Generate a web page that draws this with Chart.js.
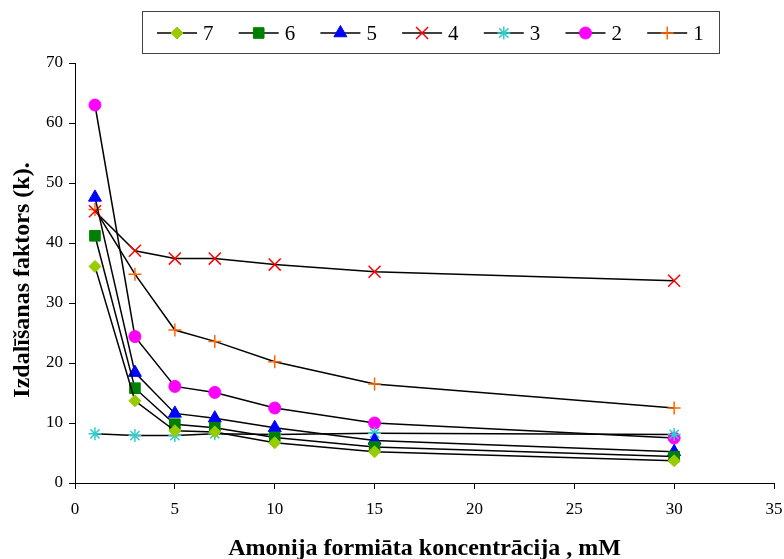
<!DOCTYPE html>
<html>
<head>
<meta charset="utf-8">
<script src="https://cdn.jsdelivr.net/npm/chart.js@4.4.0/dist/chart.umd.min.js"></script>
<style>
  html, body { margin: 0; padding: 0; background: #fff; }
  #wrap { width: 784px; height: 559px; }
</style>
</head>
<body>
<div id="wrap"><canvas id="grafico" width="784" height="559"></canvas></div>
<script>
// koncentrācijas (mM) un izdalīšanas faktori katrai sērijai
const koncentracija = [1, 3, 5, 7, 10, 15, 30];
const serija1 = [45.6, 34.8, 25.5, 23.6, 20.2, 16.5, 12.5];
const serija2 = [63.0, 24.4, 16.1, 15.1, 12.5, 10.0, 7.5];
const serija3 = [8.2, 7.9, 7.9, 8.2, 8.1, 8.3, 8.1];
const serija4 = [45.3, 38.7, 37.4, 37.4, 36.4, 35.2, 33.7];
const serija5 = [47.6, 18.4, 11.6, 10.8, 9.2, 7.1, 5.2];
const serija6 = [41.2, 15.8, 9.8, 9.2, 7.6, 6.0, 4.4];
const serija7 = [36.1, 13.7, 8.7, 8.5, 6.7, 5.2, 3.7];
const nosaukumi = ['7', '6', '5', '4', '3', '2', '1'];
const xTicks = [0, 5, 10, 15, 20, 25, 30, 35];
const yTicks = [0, 10, 20, 30, 40, 50, 60, 70];

const SERIF = '"Liberation Serif", "Times New Roman", serif';

function punkti(vertibas) {
  return koncentracija.map((x, i) => ({ x: x, y: vertibas[i] }));
}

const stili = [
  { data: serija7, color: '#99CC00', style: 'rectRot', r: 6, bw: 1 },
  { data: serija6, color: '#008000', style: 'rect', r: 7.5, bw: 1 },
  { data: serija5, color: '#0000FF', style: 'triangle', r: 7.5, bw: 1 },
  { data: serija4, color: '#FF0000', style: 'crossRot', r: 8.5, bw: 1.5 },
  { data: serija3, color: '#33CCCC', style: 'star', r: 6.5, bw: 1.5 },
  { data: serija2, color: '#FF00FF', style: 'circle', r: 6, bw: 1 },
  { data: serija1, color: '#FF6600', style: 'cross', r: 6.5, bw: 1.5 },
];

const datasets = stili.map((s, i) => ({
  label: nosaukumi[i],
  data: punkti(s.data),
  borderColor: '#000',
  borderWidth: 1.5,
  pointStyle: s.style,
  pointRadius: s.r,
  pointHoverRadius: s.r,
  pointBackgroundColor: s.color,
  pointBorderColor: s.color,
  pointBorderWidth: s.bw,
  tension: 0,
  fill: false,
}));

// leģenda rāmī virs grafika: līnija ar marķieri un numurs
const legendaRami = {
  id: 'legendaRami',
  afterDraw(chart) {
    const c = chart.ctx;
    c.save();
    c.strokeStyle = '#444';
    c.lineWidth = 1;
    c.strokeRect(142.5, 11.5, 577, 42);
    const yc = 33;
    stili.forEach((s, i) => {
      const x0 = 157 + i * 81.7;
      c.strokeStyle = '#000';
      c.lineWidth = 1.5;
      c.beginPath();
      c.moveTo(x0, yc);
      c.lineTo(x0 + 40, yc);
      c.stroke();
      c.fillStyle = s.color;
      c.strokeStyle = s.color;
      c.lineWidth = s.bw;
      Chart.helpers.drawPoint(c, { pointStyle: s.style, radius: s.r, borderWidth: s.bw }, x0 + 20, yc);
      c.fillStyle = '#000';
      c.font = '21px ' + SERIF;
      c.textBaseline = 'middle';
      c.textAlign = 'left';
      c.fillText(nosaukumi[i], x0 + 46, yc + 1);
    });
    // Y ass nosaukums
    c.translate(23, 280);
    c.rotate(-Math.PI / 2);
    c.font = 'bold 24px ' + SERIF;
    c.textAlign = 'center';
    c.textBaseline = 'middle';
    c.fillStyle = '#000';
    c.fillText('Izdalīšanas faktors (k).', 0, 0);
    c.restore();
  }
};

new Chart(document.getElementById('grafico').getContext('2d'), {
  type: 'line',
  data: { datasets: datasets },
  options: {
    responsive: false,
    animation: false,
    layout: { padding: { top: 63, right: 9, left: 0, bottom: 0 } },
    plugins: {
      legend: { display: false },
      tooltip: { enabled: false },
    },
    scales: {
      x: {
        type: 'linear',
        min: 0,
        max: 35,
        afterBuildTicks: (ax) => { ax.ticks = xTicks.map(v => ({ value: v })); },
        afterFit: (ax) => { ax.height = 76; ax.paddingRight = 0; ax.paddingLeft = 0; },
        ticks: { color: '#000', font: { family: SERIF, size: 17 }, padding: 10, maxRotation: 0 },
        grid: { drawOnChartArea: false, color: '#000', tickLength: 6 },
        border: { color: '#000', width: 1 },
        title: {
          display: true,
          text: 'Amonija formiāta koncentrācija , mM',
          color: '#000',
          font: { family: SERIF, size: 24, weight: 'bold', lineHeight: 1 },
          padding: { top: 0, bottom: -2 },
        },
      },
      y: {
        min: 0,
        max: 70,
        afterBuildTicks: (ax) => { ax.ticks = yTicks.map(v => ({ value: v })); },
        afterFit: (ax) => { ax.width = 75; },
        ticks: { color: '#000', font: { family: SERIF, size: 17 }, padding: 6 },
        grid: { drawOnChartArea: false, color: '#000', tickLength: 6 },
        border: { color: '#000', width: 1 },
      },
    },
  },
  plugins: [legendaRami],
});
</script>
</body>
</html>
